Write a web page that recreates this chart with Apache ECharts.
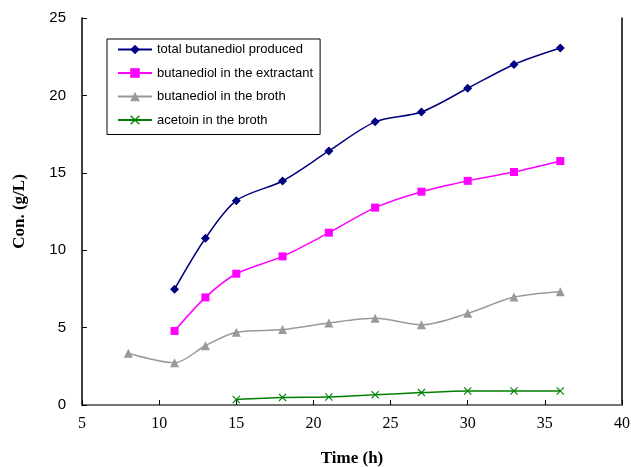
<!DOCTYPE html>
<html>
<head>
<meta charset="utf-8">
<script src="https://cdn.jsdelivr.net/npm/echarts@6/dist/echarts.min.js"></script>
<style>
  html, body { margin: 0; padding: 0; background: #fff; }
  #chart { width: 631px; height: 467px; }
</style>
</head>
<body>
<div id="chart"></div>
<script>
// time points (h)
const timeTotal = [11, 13, 15, 18, 21, 24, 27, 30, 33, 36];
const timeBroth = [8, 11, 13, 15, 18, 21, 24, 27, 30, 33, 36];
const timeAcetoin = [15, 18, 21, 24, 27, 30, 33, 36];

// concentrations (g/L)
const totalBdo = [7.48, 10.77, 13.2, 14.47, 16.41, 18.29, 18.93, 20.46, 22.0, 23.06];
const extractantBdo = [4.78, 6.95, 8.48, 9.6, 11.13, 12.75, 13.78, 14.48, 15.05, 15.76];
const brothBdo = [3.34, 2.73, 3.83, 4.7, 4.87, 5.3, 5.6, 5.18, 5.92, 6.97, 7.32];
const acetoinBroth = [0.36, 0.49, 0.52, 0.66, 0.8, 0.9, 0.9, 0.9];

const seriesNames = [
  'total butanediol produced',
  'butanediol in the extractant',
  'butanediol in the broth',
  'acetoin in the broth'
];

const zip = (xs, ys) => xs.map((x, i) => [x, ys[i]]);

const crossPath = 'path://M0,1 L1,0 L5,4 L9,0 L10,1 L6,5 L10,9 L9,10 L5,6 L1,10 L0,9 L4,5 Z';

const chart = echarts.init(document.getElementById('chart'), null, { renderer: 'canvas' });

function lineSeries(name, data, color, symbol, size) {
  return {
    name: name,
    type: 'line',
    data: data,
    smooth: 0.3,
    symbol: symbol,
    symbolSize: size,
    showSymbol: true,
    lineStyle: { color: color, width: 1.5 },
    itemStyle: { color: color },
    z: 3
  };
}

const option = {
  animation: false,
  grid: { left: 82, right: 9, top: 18, bottom: 62, containLabel: false, outerBoundsMode: 'none' },
  legend: {
    orient: 'vertical',
    left: 107,
    top: 39,
    itemWidth: 34,
    itemHeight: 12,
    itemGap: 10.5,
    padding: [4, 7, 8, 10],
    borderColor: '#000',
    borderWidth: 1,
    backgroundColor: '#fff',
    textStyle: { fontFamily: 'Liberation Sans, Arial, sans-serif', fontSize: 13, lineHeight: 12, color: '#000' },
    data: seriesNames
  },
  xAxis: [{
    type: 'value',
    min: 5,
    max: 40,
    interval: 5,
    name: 'Time (h)',
    nameLocation: 'middle',
    nameGap: 45,
    nameTextStyle: { fontFamily: 'Liberation Serif, Times New Roman, serif', fontWeight: 'bold', fontSize: 17, color: '#000' },
    axisLine: { show: true, lineStyle: { color: '#000', width: 1.5 } },
    axisTick: { show: true, inside: true, length: 5, lineStyle: { color: '#000' } },
    axisLabel: { margin: 11, fontFamily: 'Liberation Serif, Times New Roman, serif', fontSize: 16, color: '#000' },
    splitLine: { show: false }
  }, {
    type: 'value',
    position: 'top',
    min: 5,
    max: 40,
    axisLine: { show: true, lineStyle: { color: '#888', width: 1.5 } },
    axisTick: { show: false },
    axisLabel: { show: false },
    splitLine: { show: false }
  }],
  yAxis: [{
    type: 'value',
    min: 0,
    max: 25,
    interval: 5,
    name: 'Con. (g/L)',
    nameLocation: 'middle',
    nameGap: 54,
    nameTextStyle: { fontFamily: 'Liberation Serif, Times New Roman, serif', fontWeight: 'bold', fontSize: 17, color: '#000' },
    axisLine: { show: true, lineStyle: { color: '#000', width: 1.5 } },
    axisTick: { show: true, inside: true, length: 5, lineStyle: { color: '#000' } },
    axisLabel: { margin: 16, fontFamily: 'Liberation Sans, Arial, sans-serif', fontSize: 15, color: '#000' },
    splitLine: { show: false }
  }, {
    type: 'value',
    position: 'right',
    min: 0,
    max: 25,
    axisLine: { show: true, lineStyle: { color: '#000', width: 1.5 } },
    axisTick: { show: false },
    axisLabel: { show: false },
    splitLine: { show: false }
  }],
  series: [
    lineSeries(seriesNames[0], zip(timeTotal, totalBdo), '#000080', 'diamond', 9),
    lineSeries(seriesNames[1], zip(timeTotal, extractantBdo), '#ff00ff', 'rect', 8),
    lineSeries(seriesNames[2], zip(timeBroth, brothBdo), '#999999', 'triangle', 9),
    lineSeries(seriesNames[3], zip(timeAcetoin, acetoinBroth), '#008000', crossPath, 8)
  ]
};

chart.setOption(option);
</script>
</body>
</html>
